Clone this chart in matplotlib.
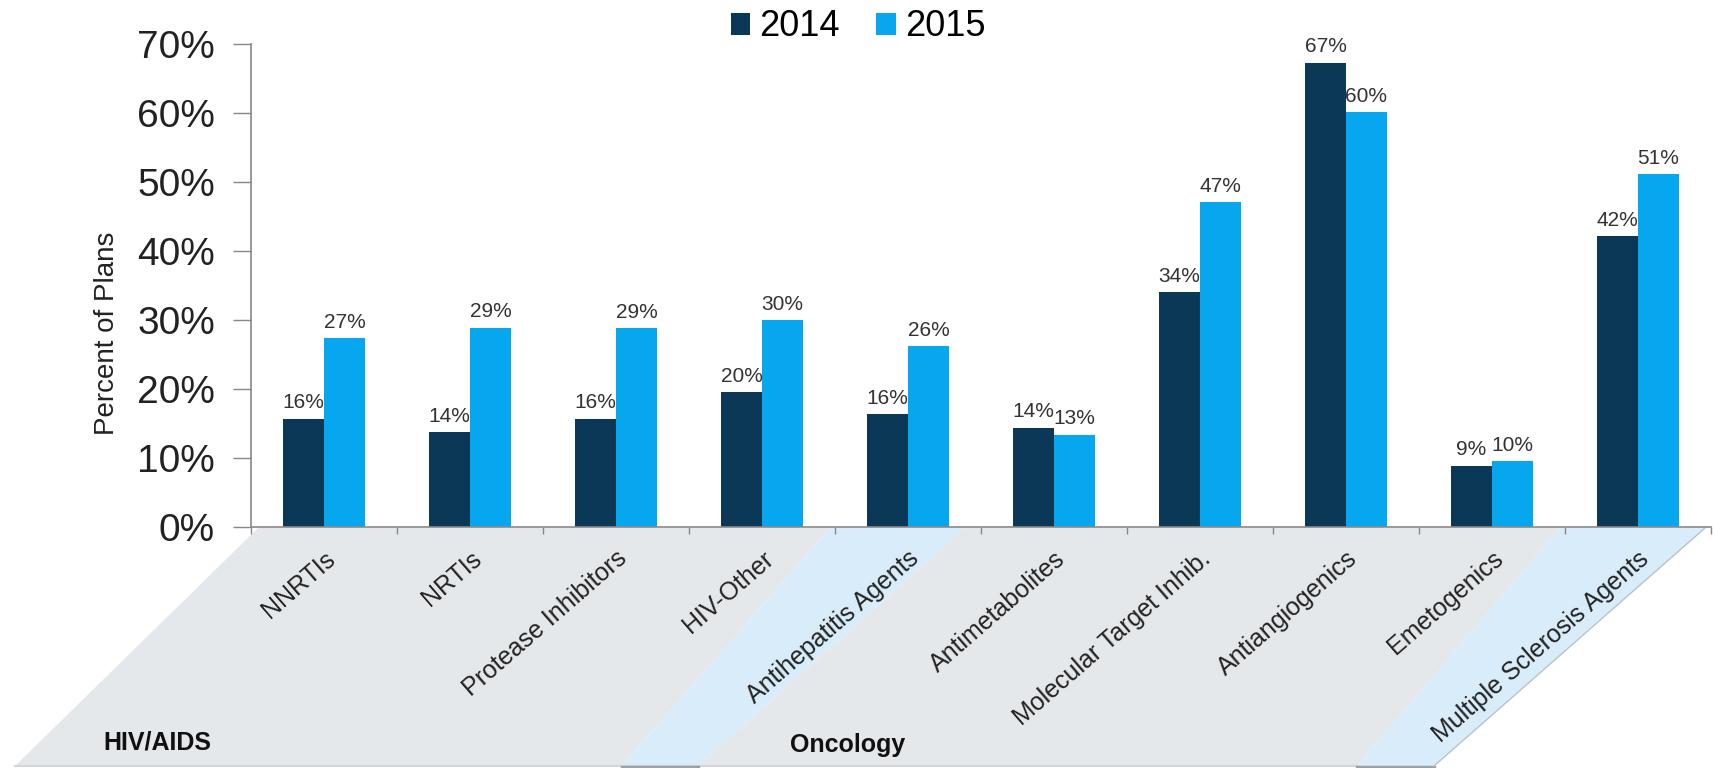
import matplotlib.pyplot as plt
from matplotlib.patches import Polygon
import numpy as np

plt.rcParams['font.family'] = ['Liberation Sans', 'DejaVu Sans']

# data
categories = ['NNRTIs', 'NRTIs', 'Protease Inhibitors', 'HIV-Other', 'Antihepatitis Agents',
              'Antimetabolites', 'Molecular Target Inhib.', 'Antiangiogenics', 'Emetogenics',
              'Multiple Sclerosis Agents']
vals_2014 = [15.7, 13.8, 15.7, 19.6, 16.4, 14.4, 34.1, 67.3, 8.9, 42.2]
vals_2015 = [27.4, 28.9, 28.8, 30.0, 26.2, 13.4, 47.1, 60.1, 9.5, 51.2]
labels_2014 = ['16%', '14%', '16%', '20%', '16%', '14%', '34%', '67%', '9%', '42%']
labels_2015 = ['27%', '29%', '29%', '30%', '26%', '13%', '47%', '60%', '10%', '51%']
years = ['2014', '2015']
groups = ['HIV/AIDS', 'Oncology']

c_dark = '#0c3857'
c_light = '#07a7ef'
c_gray = '#e5e8eb'
c_blue = '#d8edf9'

W, H = 1713, 768
fig = plt.figure(figsize=(W / 100, H / 100), dpi=100)

# axes placed in pixels (left, bottom from top)
ax_l, ax_r, ax_top, ax_bot = 251, 1711, 44, 527
ax = fig.add_axes([ax_l / W, 1 - ax_bot / H, (ax_r - ax_l) / W, (ax_bot - ax_top) / H])
ax.patch.set_alpha(0)

x = np.arange(len(categories))
w = 0.28
b1 = ax.bar(x - w / 2, vals_2014, w, color=c_dark, label=years[0])
b2 = ax.bar(x + w / 2, vals_2015, w, color=c_light, label=years[1])

for i in range(len(categories)):
    ax.text(x[i] - w / 2, vals_2014[i] + 0.9, labels_2014[i], ha='center', va='bottom',
            fontsize=15, color='#333333')
    ax.text(x[i] + w / 2, vals_2015[i] + 0.9, labels_2015[i], ha='center', va='bottom',
            fontsize=15, color='#333333')

ax.set_xlim(-0.5, len(categories) - 0.5)
ax.set_ylim(0, 70)
ax.set_yticks(range(0, 71, 10))
ax.set_yticklabels([f'{v}%' for v in range(0, 71, 10)], fontsize=28, color='#222222')
ax.tick_params(axis='y', length=13, width=1, color='#888888', pad=13)

ax.set_xticks(x)
ax.set_xticklabels(categories, rotation=41, ha='right', va='top', rotation_mode='anchor',
                   fontsize=18, color='#222222')
ax.tick_params(axis='x', which='major', length=0, pad=14)
ax.set_xticks(np.arange(-0.5, len(categories), 1), minor=True)
ax.tick_params(axis='x', which='minor', length=5, width=1, color='#888888')

for s in ['top', 'right']:
    ax.spines[s].set_visible(False)
for s in ['left', 'bottom']:
    ax.spines[s].set_color('#888888')
    ax.spines[s].set_linewidth(1.2)

ax.set_ylabel('Percent of Plans', fontsize=20, color='#222222')
ax.yaxis.set_label_coords(-0.09, 0.4)


# slanted background bands under the axis (pixel coords, y from top)
def px(pts):
    return [(a / W, 1 - b / H) for a, b in pts]


yt, yb = 528, 766
bands = [
    ([(258, yt), (830, yt), (622, yb), (15, yb)], c_gray),
    ([(830, yt), (965, yt), (698, yb), (622, yb)], c_blue),
    ([(965, yt), (1560, yt), (1357, yb), (698, yb)], c_gray),
    ([(1560, yt), (1705, yt), (1434, yb), (1357, yb)], c_blue),
]
for pts, col in bands:
    fig.add_artist(Polygon(px(pts), closed=True, facecolor=col, edgecolor='none',
                           transform=fig.transFigure, zorder=-2))
# soft edges / shadows
fig.add_artist(plt.Line2D([15 / W, 1357 / W], [1 - yb / H] * 2, color='#d3d6d9', lw=1.5,
                          transform=fig.transFigure, zorder=-1))
for xa, xb in [(622, 698), (1357, 1434)]:
    fig.add_artist(plt.Line2D([xa / W, xb / W], [1 - (yb + 1) / H] * 2, color='#9aa2a8', lw=2.5,
                              transform=fig.transFigure, zorder=-1))
fig.add_artist(plt.Line2D([1434 / W, 1705 / W], [1 - yb / H, 1 - yt / H], color='#b5c3cc', lw=1,
                          transform=fig.transFigure, zorder=-1))

fig.text(157 / W, 1 - 743 / H, groups[0], fontsize=18, fontweight='bold', ha='center', va='center',
         color='#111111')
fig.text(848 / W, 1 - 745 / H, groups[1], fontsize=18, fontweight='bold', ha='center', va='center',
         color='#111111')

fig.legend(handles=[b1, b2], labels=years, loc='center', bbox_to_anchor=(858 / W, 1 - 27 / H),
           ncol=2, frameon=False, fontsize=26, handlelength=0.55, handleheight=0.55,
           handletextpad=0.25, columnspacing=1.0, borderpad=0)

fig.savefig('out.png', dpi=100)
